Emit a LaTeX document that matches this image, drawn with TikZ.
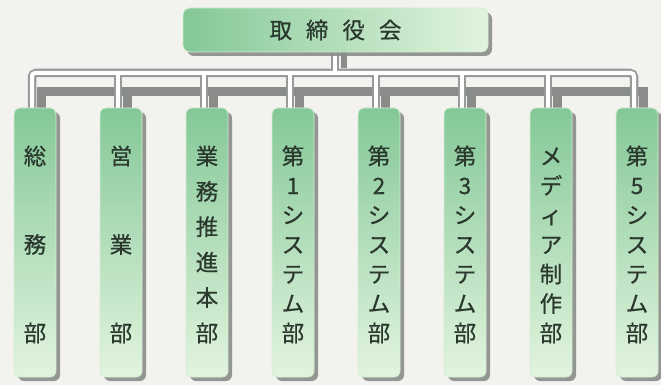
\documentclass[tikz,border=0pt]{standalone}
\usepackage{fontspec}
\setmainfont{Noto Sans CJK JP}[FakeBold=0.6]
\usetikzlibrary{shadows}
\definecolor{paper}{RGB}{242,242,238}
\definecolor{boxtop}{RGB}{132,200,152}
\definecolor{boxbot}{RGB}{226,244,222}
\definecolor{boxedge}{RGB}{210,238,208}
\definecolor{pipegray}{RGB}{150,154,154}
\definecolor{shadegray}{RGB}{138,140,138}
\definecolor{ink}{RGB}{42,56,46}
\tikzset{
  board/.style={rounded corners=7pt, minimum width=305pt, minimum height=44pt,
    left color=boxtop, right color=boxbot, draw=boxedge, line width=0.8pt,
    drop shadow={shadow xshift=4pt, shadow yshift=-4pt, fill=shadegray, opacity=0.9},
    text=ink, font=\fontsize{22.5}{23}\selectfont},
  dept/.style={rounded corners=6pt, minimum width=42pt, minimum height=269pt, inner sep=0pt,
    top color=boxtop, bottom color=boxbot, draw=boxedge, line width=0.8pt,
    drop shadow={shadow xshift=4pt, shadow yshift=-4pt, fill=shadegray, opacity=0.9},
    text=ink, font=\fontsize{22.5}{23}\selectfont},
  pipeout/.style={draw=pipegray, line width=8.5pt, rounded corners=4pt},
  pipein/.style={draw=white, line width=4pt, rounded corners=3pt},
  pipeshade/.style={draw=shadegray, line width=9pt}
}
% characters stacked from top to bottom, spread over the box
\newcommand\vtext[1]{\vbox to 203pt{\offinterlineskip\vskip7pt
  \foreach \c [count=\k] in {#1}{\ifnum\k>1 \vfill\fi
    \hbox to 30pt{\hss\vrule height 19pt depth 5pt width 0pt\c\hss}}}}

\begin{document}
\begin{tikzpicture}[x=1pt,y=-1pt]
\fill[paper] (0,0) rectangle (661,385);
\useasboundingbox (0,0) rectangle (661,385);

\coordinate (hub) at (335,73);

% shadows of the pipes
\begin{scope}
\foreach \i/\x in {1/35,2/121,3/207,4/293,5/379,6/465,7/551,8/637}
  \coordinate (top\i) at (\x-3,108);
\foreach \i in {1,...,8}
  \draw[pipeshade] ([xshift=9pt]top\i) |- ([yshift=-19pt]hub);
\draw[pipeshade, line width=6pt] (344,52) -- (344,68);
\end{scope}

% pipes: gray first, then the white core
\foreach \s in {pipeout,pipein}{
  \draw[\s] (top1) |- (hub) -| (top8);
  \draw[\s] (335,50) -- (hub);
  \foreach \i in {2,...,7}
    \draw[\s] (top\i) -- (top\i |- hub);
}

\node[board] (bod) at (335.5,30) {取\hspace{14pt}締\hspace{14pt}役\hspace{14pt}会};

\node[dept] (d1) at (35,242.5)  {\vtext{総,務,部}};
\node[dept] (d2) at (121,242.5) {\vtext{営,業,部}};
\node[dept] (d3) at (207,242.5) {\vtext{業,務,推,進,本,部}};
\node[dept] (d4) at (293,242.5) {\vtext{第,1,シ,ス,テ,ム,部}};
\node[dept] (d5) at (379,242.5) {\vtext{第,2,シ,ス,テ,ム,部}};
\node[dept] (d6) at (465,242.5) {\vtext{第,3,シ,ス,テ,ム,部}};
\node[dept] (d7) at (551,242.5) {\vtext{メ,デ,ィ,ア,制,作,部}};
\node[dept] (d8) at (637,242.5) {\vtext{第,5,シ,ス,テ,ム,部}};
\end{tikzpicture}
\end{document}
